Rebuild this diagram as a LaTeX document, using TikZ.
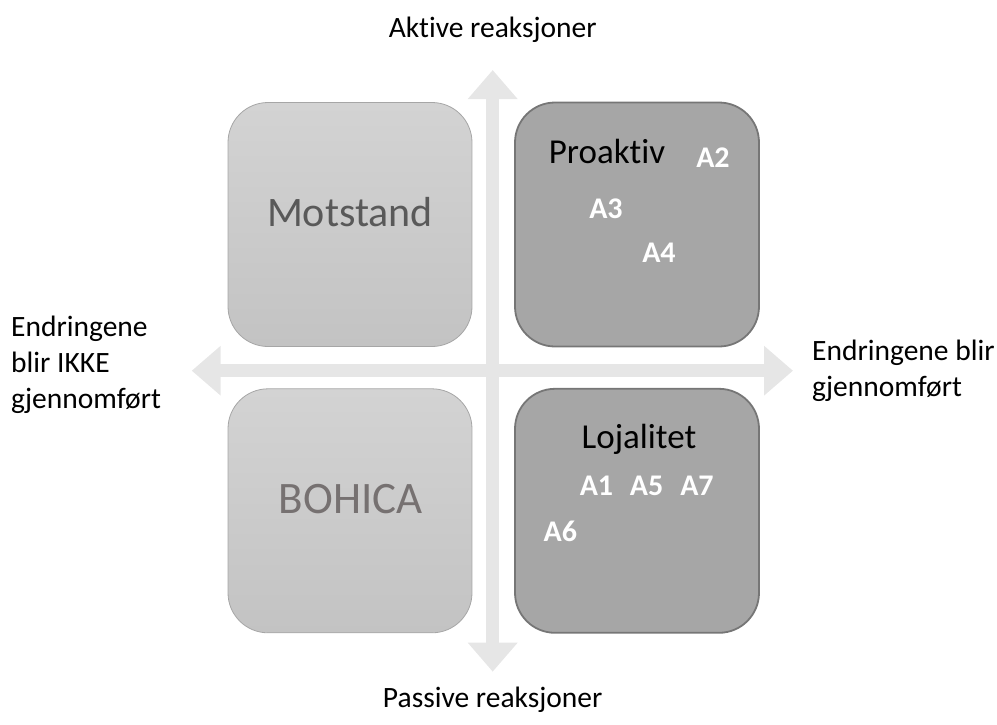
\documentclass[tikz,border=0pt]{standalone}
\usepackage{fontspec}
\setmainfont{Carlito}[Ligatures={NoCommon}]
\usetikzlibrary{arrows.meta}
\definecolor{axisgray}{HTML}{E6E6E6}
\definecolor{lighttop}{HTML}{D3D3D3}
\definecolor{lightbot}{HTML}{C3C3C3}
\definecolor{lightedge}{HTML}{A6A6A6}
\definecolor{darkfill}{HTML}{A6A6A6}
\definecolor{darkedge}{HTML}{767676}
\definecolor{mottext}{HTML}{595959}
\definecolor{bohtext}{HTML}{767171}
\tikzset{
  axisarrow/.style={draw=axisgray, line width=13pt,
    {Triangle[width=48pt,length=29pt]}-{Triangle[width=48pt,length=29pt]}},
  lbox/.style={rectangle, rounded corners=40pt, minimum width=244pt, minimum height=244pt,
    inner sep=0pt, top color=lighttop, bottom color=lightbot, draw=lightedge, line width=0.8pt},
  dbox/.style={rectangle, rounded corners=40pt, minimum width=244pt, minimum height=244pt,
    inner sep=0pt, fill=darkfill, draw=darkedge, line width=1.8pt},
  axislabel/.style={inner sep=0pt, font=\fontsize{29.5}{36}\selectfont},
  bigtext/.style={inner sep=0pt, anchor=base},
  qtitle/.style={inner sep=0pt, anchor=base, font=\fontsize{35}{42}\selectfont, text=black},
  aitem/.style={inner sep=0pt, anchor=base, font=\fontsize{30}{36}\selectfont\bfseries, text=white}
}
\begin{document}
\begin{tikzpicture}[x=1pt,y=-1pt]
\useasboundingbox (0,0) rectangle (997,724);
% axes
\coordinate (vtop) at (492.7,70);
\coordinate (vbot) at (492.7,671.7);
\coordinate (hleft) at (191.7,370.7);
\coordinate (hright) at (793,370.7);
\draw[axisarrow] (vbot) -- (vtop);
\draw[axisarrow] (hleft) -- (hright);
% boxes
\node[lbox] (motstand) at (350,224.5) {};
\node[dbox] (proaktiv) at (637,224.5) {};
\node[lbox] (bohica) at (350,510.8) {};
\node[dbox] (lojalitet) at (637,510.8) {};
% box texts
\node[bigtext, font=\fontsize{42}{50}\selectfont, text=mottext] (tmot) at (350,226.3) {Motstand};
\node[bigtext, font=\fontsize{45}{54}\selectfont, text=bohtext] (tboh) at (350.8,513.3) {BOHICA};
\node[qtitle] (tpro) at (607,163.3) {Proaktiv};
\node[qtitle] (tloj) at (639,448.3) {Lojalitet};
\node[aitem] (a2) at (713,167) {A2};
\node[aitem] (a3) at (606,218) {A3};
\node[aitem] (a4) at (659,262) {A4};
\node[aitem] (a1) at (596.5,495) {A1};
\node[aitem] (a5) at (646.6,495) {A5};
\node[aitem] (a7) at (697,495) {A7};
\node[aitem] (a6) at (560.4,541.7) {A6};
% axis labels
\node[axislabel, anchor=base] (aktive) at (492.7,37) {Aktive reaksjoner};
\node[axislabel, anchor=base] (passive) at (492.7,707) {Passive reaksjoner};
\node[axislabel, anchor=base west, align=left] (ikke) at (11,408) {Endringene\\blir IKKE\\gjennomført};
\node[axislabel, anchor=base west, align=left] (blir) at (812,396) {Endringene blir\\gjennomført};
\end{tikzpicture}
\end{document}
